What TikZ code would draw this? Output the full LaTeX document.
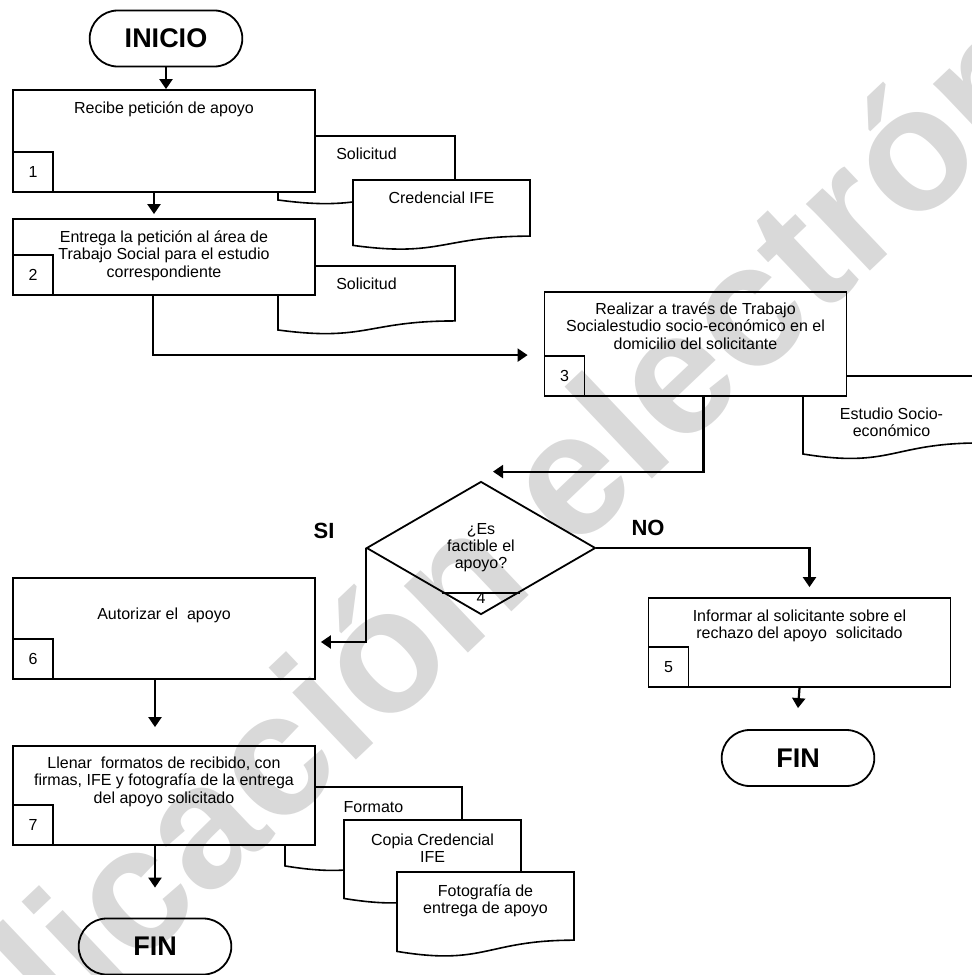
\documentclass[tikz,border=0pt]{standalone}
\usepackage{fontspec}
\setmainfont{Liberation Sans}
\usetikzlibrary{positioning, shapes.geometric, shapes.misc, arrows.meta, calc}

\begin{document}
\begin{tikzpicture}[
         x=0.5pt, y=-0.5pt,
         >={Triangle[length=5pt,width=6.5pt]},
         flow/.style={->, line width=1.1pt},
         terminal/.style={rounded rectangle, draw, fill=white, line width=0.9pt, minimum width=83pt, minimum height=28pt, font=\fontsize{13.5}{14}\selectfont\bfseries},
         process/.style={rectangle, draw, fill=white, line width=0.9pt, minimum width=151pt},
         stepnum/.style={rectangle, draw, line width=0.9pt, minimum size=20pt, inner sep=0pt, anchor=south west, font=\fontsize{8}{9}\selectfont},
         boxtext/.style={align=center, inner sep=0pt, font=\fontsize{8}{8.75}\selectfont},
         decision/.style={diamond, draw, fill=white, line width=0.9pt, minimum width=114.5pt, minimum height=66.5pt, inner sep=0pt, align=center, font=\fontsize{8}{8.5}\selectfont},
         answer/.style={font=\fontsize{11}{12}\selectfont\bfseries},
         docshape/.style={draw, fill=white, line width=0.8pt},
         doctext/.style={boxtext, anchor=north},
         watermark/.style={text=black!15, rotate=43.5, anchor=base, font=\fontsize{87.5}{88}\selectfont\bfseries}
      ]
         \useasboundingbox (0,0) rectangle (972,975);
         \clip (0,0) rectangle (972,975);

         % Documents behind the steps
         \foreach \dx/\dy/\dh/\dt/\dname/\dtext in {
               278/136/68.5/12/d1/Solicitud,
               353/180/70/12/d2/Credencial IFE,
               278/266/68.5/12/d3/Solicitud,
               803/376/83.5/31/d4/{Estudio Socio-\\económico},
               285/787/84.5/14/d5/Formato,
               344/820/84/13/d6/{Copia Credencial\\IFE},
               397/872/85/12/d7/{Fotografía de\\entrega de apoyo}} {
            \draw[docshape] (\dx,\dy) -- (\dx+177,\dy) -- (\dx+177,\dy+0.802*\dh)
               .. controls (\dx+88.5,\dy+0.802*\dh) and (\dx+88.5,\dy+1.107*\dh) .. (\dx,\dy+0.934*\dh) -- cycle;
            \node[doctext] (\dname) at (\dx+88.5,\dy+\dt) {\dtext};
         }

         % Terminals, steps and decision
         \node[terminal] (inicio) at (166,38.5) {INICIO};
         \node[process, minimum height=51pt] (p1) at (164,141) {};
         \node[process, minimum height=38pt] (p2) at (164,257) {};
         \node[process, minimum height=52pt] (p3) at (695.5,344) {};
         \node[decision] (dec) at (481,548) {¿Es\\factible el\\apoyo?};
         \node[process, minimum height=44.5pt] (p5) at (799.5,642.5) {};
         \node[process, minimum height=50.5pt] (p6) at (164,628.5) {};
         \node[process, minimum height=49.5pt] (p7) at (164,795.5) {};
         \node[terminal] (fin1) at (155,946.5) {FIN};
         \node[terminal] (fin2) at (798,758) {FIN};

         % Step numbers
         \foreach \n in {1,2,3,5,6,7}
            \node[stepnum] (n\n) at (p\n.south west) {\n};
         \draw[line width=0.9pt] ($(dec.west)!0.662!(dec.south)$) -- ($(dec.east)!0.662!(dec.south)$);
         \node[boxtext] (n4) at (481,598) {4};

         % Step texts
         \node[boxtext, below=6pt of p1.north] (t1) {Recibe petición de apoyo};
         \node[boxtext, below=6pt of p2.north] (t2) {Entrega la petición al área de\\Trabajo Social para el estudio\\correspondiente};
         \node[boxtext, below=5.5pt of p3.north] (t3) {Realizar a través de Trabajo\\Socialestudio socio-económico en el\\domicilio del solicitante};
         \node[boxtext, below=6pt of p5.north] (t5) {Informar al solicitante sobre el\\rechazo del apoyo~ solicitado};
         \node[boxtext, below=15pt of p6.north] (t6) {Autorizar el~ apoyo};
         \node[boxtext, below=5.5pt of p7.north] (t7) {Llenar~ formatos de recibido, con\\firmas, IFE y fotografía de la entrega\\del apoyo solicitado};

         % Answers
         \node[answer] (si) at (324,531) {SI};
         \node[answer] (no) at (648,528) {NO};

         % Connectors
         \draw[flow] (inicio.south) -- (inicio.south |- p1.north);
         \draw[flow] ([xshift=-5pt]p1.south) -- ([xshift=-5pt,yshift=2pt]p2.north);
         \draw[flow] ([xshift=-5.5pt]p2.south) |- ([xshift=-8pt]n3.north west);
         \draw[flow] ([xshift=4pt]p3.south) |- ([xshift=6pt,yshift=4.5pt]dec.north);
         \draw[flow] (dec.west) |- ([xshift=2.5pt,yshift=-6.75pt]p6.east);
         \draw[flow] (dec.east) -| ([xshift=5pt,yshift=5pt]p5.north);
         \draw[flow] (p5.south) -- ([yshift=10.5pt]fin2.north);
         \draw[flow] ([xshift=-4.5pt]p6.south) -- ([xshift=-4.5pt,yshift=9pt]p7.north);
         \draw[flow] ([xshift=-4.5pt]p7.south) -- ([yshift=15pt]fin1.north);

         % Watermark
         \begin{scope}[blend mode=multiply]
            \node[watermark] (marca) at (534,591) {Publicación electrónica};
         \end{scope}
      \end{tikzpicture}
\end{document}
